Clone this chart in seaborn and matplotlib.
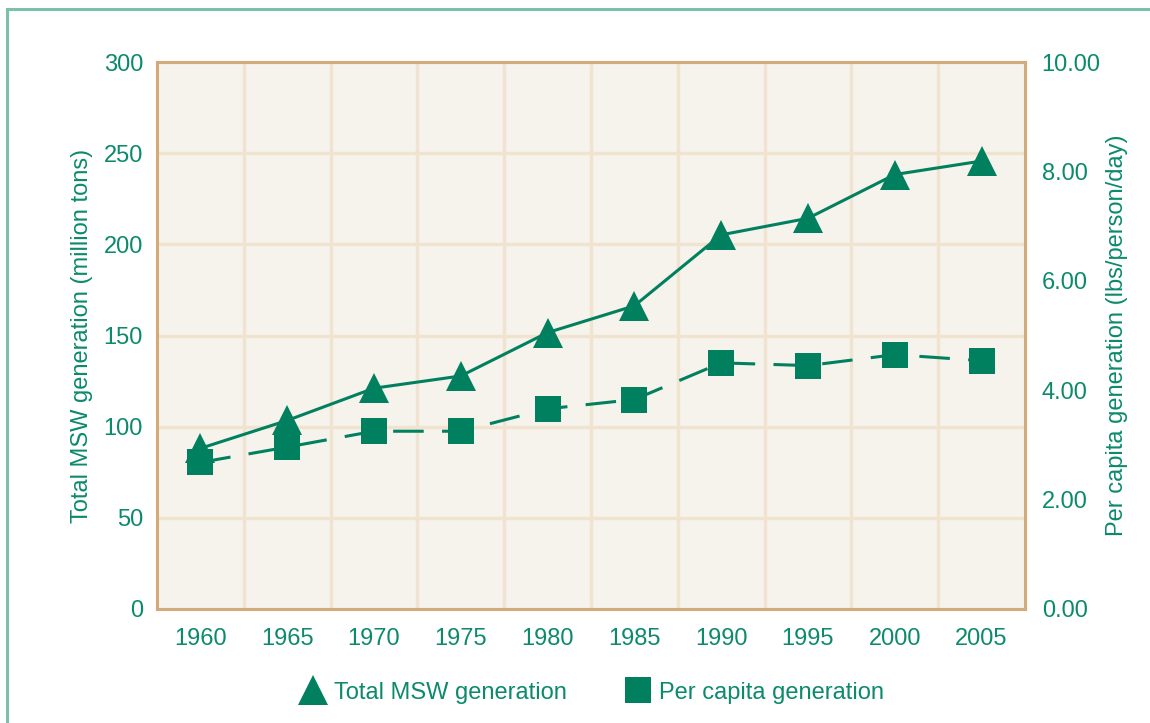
import numpy as np
import matplotlib
matplotlib.use("Agg")
import matplotlib.pyplot as plt
import seaborn as sns
from matplotlib.lines import Line2D
from matplotlib.patches import Rectangle
from matplotlib.ticker import FormatStrFormatter

# Data
years = [1960, 1965, 1970, 1975, 1980, 1985, 1990, 1995, 2000, 2005]
total_msw = [88.1, 103.4, 121.1, 127.8, 151.6, 166.3, 205.2, 214.3, 238.3, 245.7]
per_capita = [2.68, 2.96, 3.25, 3.25, 3.66, 3.83, 4.50, 4.45, 4.65, 4.54]

green = "#00805E"
text_green = "#0B8A6C"
bg = "#F6F2EC"
grid_c = "#F0E3D0"
spine_c = "#D3AA79"
fs = 17

sns.set_theme(style="white")
plt.rcParams["font.family"] = ["Liberation Sans", "DejaVu Sans"]

fig = plt.figure(figsize=(11.5, 7.23), dpi=100)
ax = fig.add_axes([0.1365, 0.1577, 0.7548, 0.7565])
ax.set_facecolor(bg)
ax.set_zorder(1)

# total MSW on the left scale (drawn on a twin so it sits above the grid)
ax_tot = ax.twinx()
ax_tot.set_zorder(2)
ax_tot.patch.set_visible(False)
sns.lineplot(x=years, y=total_msw, ax=ax_tot, color=green, lw=2.2,
             marker="^", markersize=22, markeredgewidth=0, legend=False)

# per capita on the right scale
ax_pc = ax.twinx()
ax_pc.set_zorder(3)
ax_pc.patch.set_visible(False)
sns.lineplot(x=years, y=per_capita, ax=ax_pc, color=green, lw=2.2,
             marker="s", markersize=19, markeredgewidth=0, legend=False)
ax_pc.lines[0].set_dashes((10, 6))

ax.set_xlim(1957.5, 2007.5)
ax.set_ylim(0, 300)
ax_tot.set_ylim(0, 300)
ax_tot.set_yticks([])
ax_pc.set_ylim(0, 10)
ax.set_yticks(np.arange(0, 301, 50))
ax.set_xticks(years)
ax.set_xticks(np.arange(1962.5, 2007, 5), minor=True)
ax.grid(True, which="minor", axis="x", color=grid_c, lw=2.4)
ax.grid(True, which="major", axis="y", color=grid_c, lw=2.4)
ax.set_axisbelow(True)

ax_pc.set_yticks(np.arange(0, 10.01, 2))
ax_pc.yaxis.set_major_formatter(FormatStrFormatter("%.2f"))

for a in (ax, ax_tot, ax_pc):
    for s in a.spines.values():
        s.set_visible(False)

for s in ax.spines.values():
    s.set_visible(True)
    s.set_color(spine_c)
    s.set_linewidth(2.2)

ax.tick_params(axis="both", which="both", length=0, labelsize=fs,
               labelcolor=text_green, pad=10)
ax.tick_params(axis="x", pad=14)
ax_pc.tick_params(axis="y", length=0, labelsize=fs, labelcolor=text_green, pad=12)

ax.set_ylabel("Total MSW generation (million tons)", fontsize=fs,
              color=text_green, labelpad=8)
ax_pc.set_ylabel("Per capita generation (lbs/person/day)", fontsize=fs,
                 color=text_green, labelpad=4)

handles = [
    Line2D([], [], color=green, marker="^", markersize=22, lw=0, markeredgewidth=0),
    Line2D([], [], color=green, marker="s", markersize=19, lw=0, markeredgewidth=0),
]
fig.legend(handles, ["Total MSW generation", "Per capita generation"],
           loc="center", bbox_to_anchor=(0.514, 0.042), ncol=2, frameon=False,
           fontsize=fs, labelcolor=text_green, columnspacing=2.4,
           handletextpad=0.3, handlelength=1.2)

# outer frame
fig.patches.append(Rectangle((7 / 1150, -0.05), 1.2, 1 - 9 / 723 + 0.05,
                             transform=fig.transFigure, fill=False,
                             edgecolor="#7DBFAD", lw=2.2))

fig.savefig("out.png", dpi=100)
